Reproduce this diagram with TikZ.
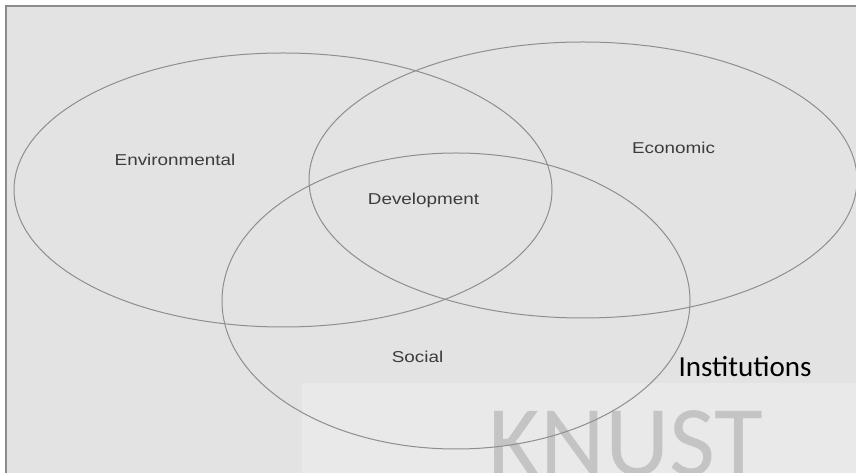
\documentclass[tikz,border=0pt]{standalone}
\usepackage{fontspec}
\usepackage{graphicx}
\setmainfont{Liberation Sans}
\newfontfamily\calib{Carlito}
\definecolor{bgfill}{HTML}{E3E3E3}
\definecolor{panelfill}{HTML}{E9E9E9}
\definecolor{framecol}{HTML}{8C8C8C}
\definecolor{ringcol}{HTML}{8E8E8E}
\definecolor{labelcol}{HTML}{3C3C3C}
\definecolor{markcol}{HTML}{C4C4C4}
\tikzset{
  ring/.style={draw=ringcol, line width=0.75pt},
  setlabel/.style={anchor=base, inner sep=0pt, text=labelcol, font=\fontsize{11.8}{14}\selectfont},
}
\newcommand{\wide}[1]{\scalebox{1.2}[1]{#1}}
\begin{document}
\begin{tikzpicture}[x=0.75pt,y=-0.75pt]
\useasboundingbox (0,0) rectangle (856,473);
\fill[white] (0,0) rectangle (856,473);
\fill[bgfill] (6,6) rectangle (856,473);
\fill[panelfill] (302,383) rectangle (856,473);
\draw[framecol, line width=1.1pt] (6,473) -- (6,6) -- (856,6);
\node[anchor=base, inner sep=0pt, text=markcol, font=\calib\fontsize{75}{80}\selectfont] (mark) at (626,475) {KNUST};
\draw[ring] (283,190) ellipse [x radius=269, y radius=137];
\draw[ring] (583,180) ellipse [x radius=274, y radius=138];
\draw[ring] (456,301) ellipse [x radius=234, y radius=148];
\node[setlabel] (env) at (175,166) {\wide{Environmental}};
\node[setlabel] (eco) at (673.5,154) {\wide{Economic}};
\node[setlabel] (dev) at (423.5,205) {\wide{Development}};
\node[setlabel] (soc) at (417.5,363) {\wide{Social}};
\node[anchor=base, inner sep=0pt, text=black, font=\calib\fontsize{21.8}{26}\selectfont] (inst) at (745,377) {Institutions};
\end{tikzpicture}
\end{document}
